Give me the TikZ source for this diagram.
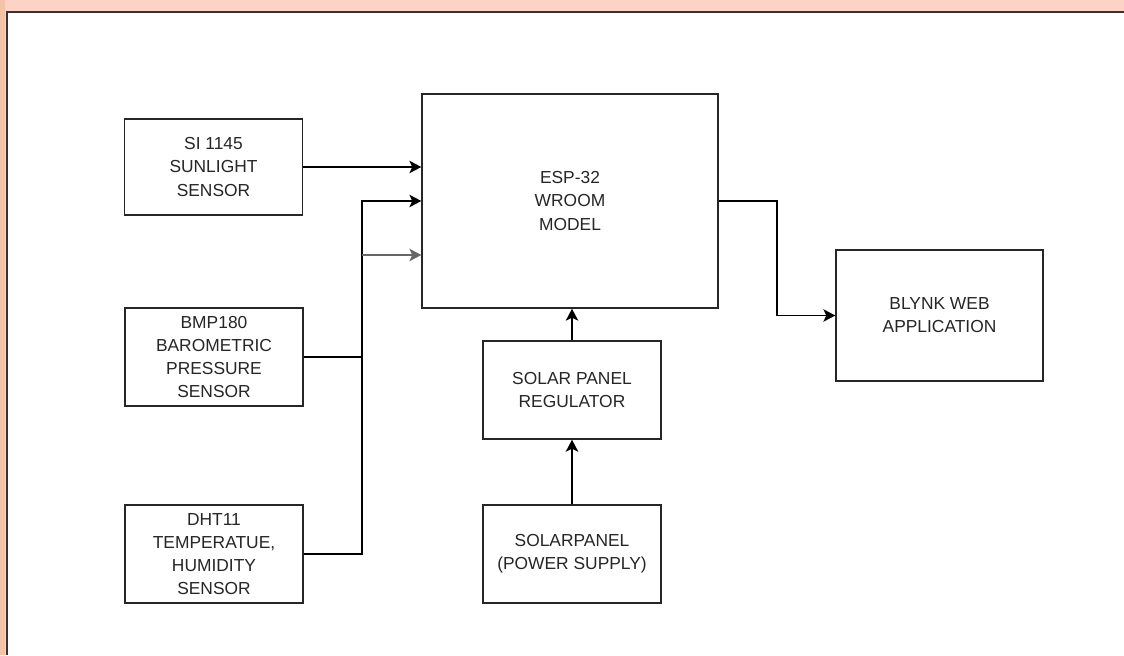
\documentclass[tikz,border=0pt]{standalone}
\usepackage{fontspec}
\setmainfont{Liberation Sans}
\usetikzlibrary{arrows.meta}
\definecolor{pagepink}{HTML}{FDD3C7}
\definecolor{edgepeach}{HTML}{F3C3A9}
\tikzset{
    block/.style={draw=black!85, line width=0.8pt, fill=white, align=center, inner sep=0pt,
        font=\fontsize{9.9}{13.2}\selectfont, text=black!85},
    link/.style={draw=black, line width=0.8pt},
    feed/.style={link, -{Stealth[length=0.24cm, width=0.25cm, inset=0.06cm]}}
}
\begin{document}
\begin{tikzpicture}[x=0.02cm, y=-0.02cm]
    % page background and frame
    \useasboundingbox (0,0) rectangle (1124,655);
    \fill[pagepink] (0,0) rectangle (1124,655);
    \fill[edgepeach] (0,0) rectangle (5,655);
    \fill[white] (7,12) rectangle (1124,655);
    \draw[black!80, line width=0.9pt] (7,655) -- (7,12) -- (1124,12);

    % sensors
    \node[block, minimum width=3.56cm, minimum height=1.92cm] (si) at (213.5,167) {SI 1145\\SUNLIGHT\\SENSOR};
    \node[block, minimum width=3.56cm, minimum height=1.96cm] (bmp) at (214,357) {BMP180\\BAROMETRIC\\PRESSURE\\SENSOR};
    \node[block, minimum width=3.56cm, minimum height=1.96cm] (dht) at (214,554) {DHT11\\TEMPERATUE,\\HUMIDITY\\SENSOR};

    % controller and output
    \node[block, minimum width=5.92cm, minimum height=4.28cm] (esp) at (570,201) {ESP-32\\WROOM\\MODEL};
    \node[block, minimum width=4.14cm, minimum height=2.62cm] (blynk) at (939.5,315.5) {BLYNK WEB\\APPLICATION};

    % power
    \node[block, minimum width=3.56cm, minimum height=1.96cm] (reg) at (572,390) {SOLAR PANEL\\REGULATOR};
    \node[block, minimum width=3.56cm, minimum height=1.96cm] (solar) at (572,554) {SOLARPANEL\\(POWER SUPPLY)};

    % bus points
    \coordinate (bustop) at (362,201);
    \coordinate (busmid) at (362,255);
    \coordinate (turn) at (777,201);

    % sensor links
    \draw[feed] (si.east) -- (si.east -| esp.west);
    \draw[feed] (dht.east) -| (bustop) -- (bustop -| esp.west);
    \draw[link] (bmp.east) -- (bmp.east -| bustop);
    \draw[feed, draw=black!60, fill=black] (busmid) -- (busmid -| esp.west);

    % output link
    \draw[feed] (esp.east) -- (turn) |- (blynk.west);

    % power links
    \draw[feed] (reg.north) -- (reg.north |- esp.south);
    \draw[feed] (solar.north) -- (reg.south);
\end{tikzpicture}
\end{document}
